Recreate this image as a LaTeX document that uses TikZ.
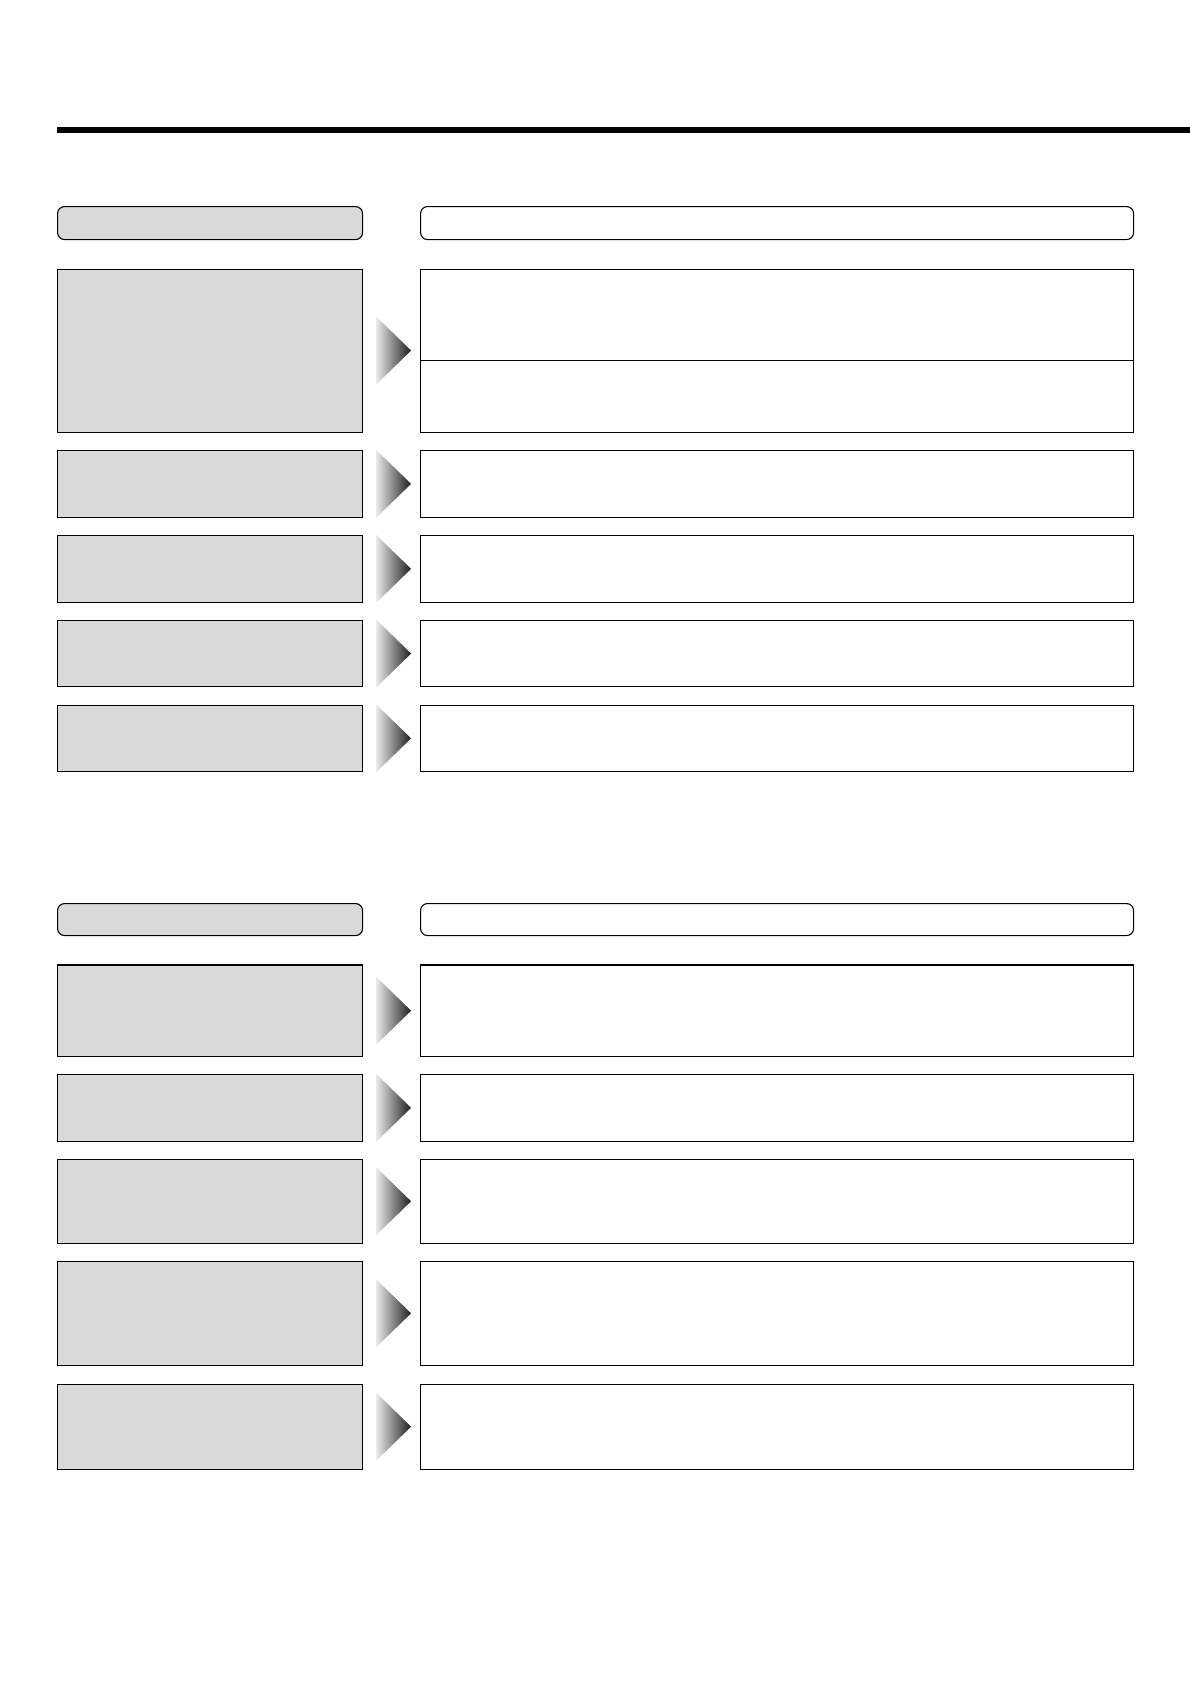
\documentclass[tikz,border=0pt]{standalone}
\usetikzlibrary{calc}
\definecolor{boxgray}{RGB}{217,217,217}
\tikzset{
  leftbox/.style={draw=black, fill=boxgray, line width=1.1pt, anchor=north west, inner sep=0pt, minimum width=305pt},
  rightbox/.style={draw=black, fill=white, line width=1.1pt, anchor=north west, inner sep=0pt, minimum width=713pt},
  lefthead/.style={leftbox, rounded corners=7pt},
  righthead/.style={rightbox, rounded corners=7pt},
  arrowshade/.style={left color=black!8, right color=black!90, shading angle=90}
}
\newcommand{\mkarrow}[1]{%
  \shade[left color=black!8, right color=black!88]
    ($(#1.east)+(13,-34)$) -- ($(#1.east)+(48,0)$) -- ($(#1.east)+(13,34)$) -- cycle;}
\begin{document}
\begin{tikzpicture}[x=1pt,y=-1pt]
\useasboundingbox (0,0) rectangle (1190,1684);
% top rule
\fill[black] (57,127) rectangle (1190,133);
% section 1 headers
\node[lefthead, minimum height=33pt] (H1L) at (57,206) {};
\node[righthead, minimum height=33pt] (H1R) at (420,206) {};
% section 1 rows
\node[leftbox, minimum height=163pt] (L1) at (57,268.5) {};
\node[rightbox, minimum height=91.3pt] (R1a) at (420,268.5) {};
\node[rightbox, minimum height=71.9pt] (R1b) at (420,359.8) {};
\node[leftbox, minimum height=66.6pt] (L2) at (57,450) {};
\node[rightbox, minimum height=66.6pt] (R2) at (420,450) {};
\node[leftbox, minimum height=66.6pt] (L3) at (57,535) {};
\node[rightbox, minimum height=66.6pt] (R3) at (420,535) {};
\node[leftbox, minimum height=66.6pt] (L4) at (57,619.7) {};
\node[rightbox, minimum height=66.6pt] (R4) at (420,619.7) {};
\node[leftbox, minimum height=66.6pt] (L5) at (57,704.5) {};
\node[rightbox, minimum height=66.6pt] (R5) at (420,704.5) {};
% section 2 headers
\node[lefthead, minimum height=32pt] (H2L) at (57,903) {};
\node[righthead, minimum height=32pt] (H2R) at (420,903) {};
% section 2 rows
\node[leftbox, minimum height=91.5pt] (L6) at (57,964.4) {};
\node[rightbox, minimum height=91.5pt] (R6) at (420,964.4) {};
\node[leftbox, minimum height=66.6pt] (L7) at (57,1074) {};
\node[rightbox, minimum height=66.6pt] (R7) at (420,1074) {};
\node[leftbox, minimum height=83.8pt] (L8) at (57,1158.8) {};
\node[rightbox, minimum height=83.8pt] (R8) at (420,1158.8) {};
\node[leftbox, minimum height=103.5pt] (L9) at (57,1261) {};
\node[rightbox, minimum height=103.5pt] (R9) at (420,1261) {};
\node[leftbox, minimum height=85.2pt] (L10) at (57,1383.5) {};
\node[rightbox, minimum height=85.2pt] (R10) at (420,1383.5) {};
% arrows
\mkarrow{L1}\mkarrow{L2}\mkarrow{L3}\mkarrow{L4}\mkarrow{L5}
\mkarrow{L6}\mkarrow{L7}\mkarrow{L8}\mkarrow{L9}\mkarrow{L10}
\end{tikzpicture}
\end{document}
